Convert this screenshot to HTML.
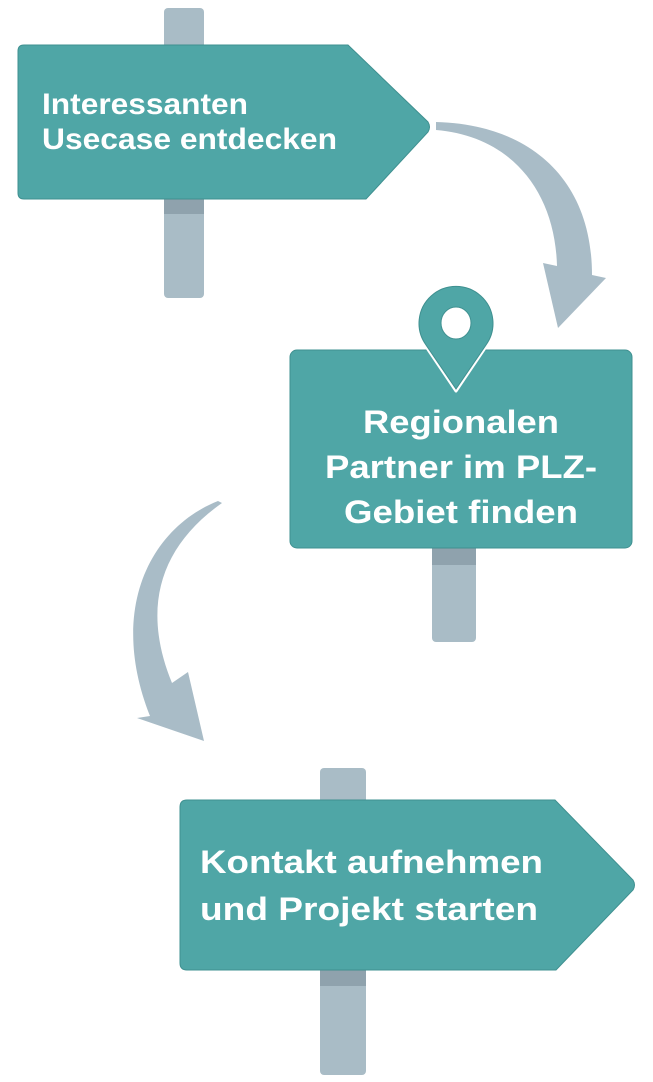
<!DOCTYPE html>
<html><head><meta charset="utf-8"><style>
html,body{margin:0;padding:0;background:#fff;}
svg{display:block;}
text{font-family:"Liberation Sans",Arial,sans-serif;font-weight:bold;fill:#fff;}
</style></head><body>
<svg width="653" height="1082" viewBox="0 0 653 1082" xmlns="http://www.w3.org/2000/svg">
<!-- Sign 1 -->
<rect x="164" y="8" width="40" height="290" rx="4" fill="#a9bcc6"/>
<rect x="164" y="199" width="40" height="15" fill="#8fa2ad"/>
<path d="M24,45 H348 L428,122 Q431,127 428,132 L366,199 H24 Q18,199 18,193 V51 Q18,45 24,45 Z" fill="#4fa6a6" stroke="#3f9090" stroke-width="1"/>
<text x="42" y="114" font-size="30" textLength="206" lengthAdjust="spacingAndGlyphs">Interessanten</text>
<text x="42" y="149" font-size="30" textLength="295" lengthAdjust="spacingAndGlyphs">Usecase entdecken</text>
<!-- Arrow 1 -->
<path d="M436,122 C525,124 592,175 592,275 L606,278 L558,328 L543,263 L557,266 C555,190 510,136 436,130 Z" fill="#a9bcc7"/>
<!-- Sign 2 -->
<rect x="432" y="540" width="44" height="102" rx="4" fill="#a9bcc6"/>
<rect x="432" y="548" width="44" height="17" fill="#8fa2ad"/>
<rect x="290" y="350" width="342" height="198" rx="7" fill="#4fa6a6" stroke="#3f9090" stroke-width="1"/>
<path d="M456,391 L425,345 A38,38 0 1 1 487,345 Z" fill="#4fa6a6" stroke="#fff" stroke-width="3" stroke-linejoin="round"/>
<path d="M456,389 L426,345 A37,37 0 1 1 486,345 Z" fill="#4fa6a6" stroke="#3f9090" stroke-width="1"/>
<ellipse cx="456" cy="323" rx="15" ry="16" fill="#fff" stroke="#3f9090" stroke-width="1"/>
<text x="461" y="433" font-size="32" text-anchor="middle" textLength="196" lengthAdjust="spacingAndGlyphs">Regionalen</text>
<text x="461" y="478" font-size="32" text-anchor="middle" textLength="272" lengthAdjust="spacingAndGlyphs">Partner im PLZ-</text>
<text x="461" y="523" font-size="32" text-anchor="middle" textLength="234" lengthAdjust="spacingAndGlyphs">Gebiet finden</text>
<!-- Arrow 2 -->
<path d="M218,501 C150,528 108,610 150,716 L137,718 L204,741 L188,672 L172,683 C142,610 158,548 222,503 Z" fill="#a9bcc7"/>
<!-- Sign 3 -->
<rect x="320" y="768" width="46" height="307" rx="4" fill="#a9bcc6"/>
<rect x="320" y="970" width="46" height="16" fill="#8fa2ad"/>
<path d="M187,800 H555 L633,880 Q636,885 633,890 L556,970 H187 Q180,970 180,963 V807 Q180,800 187,800 Z" fill="#4fa6a6" stroke="#3f9090" stroke-width="1"/>
<text x="200" y="873" font-size="32" textLength="343" lengthAdjust="spacingAndGlyphs">Kontakt aufnehmen</text>
<text x="200" y="920" font-size="32" textLength="338" lengthAdjust="spacingAndGlyphs">und Projekt starten</text>
</svg>
</body></html>
